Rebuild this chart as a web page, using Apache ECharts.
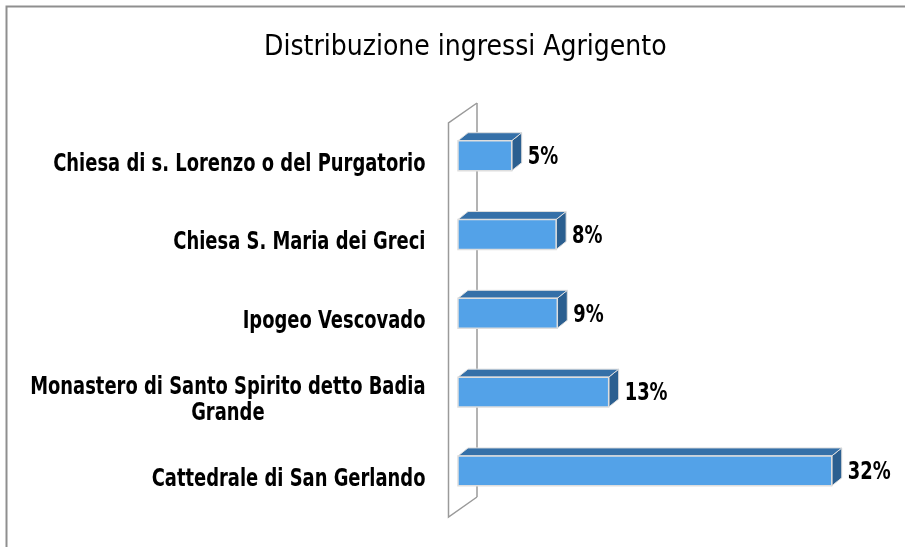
<!DOCTYPE html>
<html>
<head>
<meta charset="utf-8">
<title>Distribuzione ingressi Agrigento</title>
<script src="https://cdn.jsdelivr.net/npm/echarts@6/dist/echarts.min.js"></script>
<style>
  html, body { margin: 0; padding: 0; background: #fff; }
  #chart { width: 905px; height: 547px; }
</style>
</head>
<body>
<div id="chart"></div>
<script>
// data (top to bottom)
const categories = [
  'Chiesa di s. Lorenzo o del Purgatorio',
  'Chiesa S. Maria dei Greci',
  'Ipogeo Vescovado',
  'Monastero di Santo Spirito detto Badia\nGrande',
  'Cattedrale di San Gerlando'
];
const values = [4.6, 8.4, 8.5, 12.9, 32.0];
const valueLabels = ['5%', '8%', '9%', '13%', '32%'];

const FONT = '"Liberation Sans Narrow", "DejaVu Sans Condensed", "Arial Narrow", sans-serif';
const chart = echarts.init(document.getElementById('chart'));

// text measuring, used to centre the lines of a wrapped category label
const ctx = document.createElement('canvas').getContext('2d');
function textWidth(s, size) {
  ctx.font = 'bold ' + size + 'px ' + FONT;
  return ctx.measureText(s).width;
}

const WALL_DX = 28.5, WALL_DY = -20;   // depth of the side wall
const BAR_OX = 9.5, BAR_OY = -6.7;     // bar front face offset into the wall
const BAR_DX = 10, BAR_DY = -8;        // bar depth
const LABEL_SIZE = 24;
const NARROW = 0.83;                   // squeeze the labels like the original narrow face

function renderWall(params, api) {
  const cs = params.coordSys;
  const x = cs.x, top = cs.y, bot = cs.y + cs.height;
  const st = { stroke: '#9a9a9a', lineWidth: 1.5, fill: null };
  return {
    type: 'group',
    children: [
      { type: 'polyline', shape: { points: [[x + WALL_DX, top + WALL_DY], [x + WALL_DX, bot + WALL_DY]] }, style: st },
      { type: 'polyline', shape: { points: [[x + WALL_DX, top + WALL_DY], [x, top], [x, bot], [x + WALL_DX, bot + WALL_DY]] }, style: st }
    ]
  };
}

function renderBar(params, api) {
  const i = api.value(0);
  const v = api.value(1);
  const p0 = api.coord([0, i]);
  const p1 = api.coord([v, i]);
  const band = api.size([0, 1])[1];
  const h = band * 0.38;
  const x0 = p0[0] + BAR_OX, x1 = p1[0] + BAR_OX;
  const yc = p0[1] + BAR_OY;
  const yt = yc - h / 2, yb = yc + h / 2;
  const edge = '#dedede';
  // category label, right aligned, wrapped lines centred on each other
  const lines = categories[i].split('\n');
  const w = NARROW * Math.max.apply(null, lines.map(function (s) { return textWidth(s, LABEL_SIZE); }));
  const labelRight = p0[0] - 23;
  return {
    type: 'group',
    children: [
      { type: 'polygon', shape: { points: [[x1, yt], [x1 + BAR_DX, yt + BAR_DY], [x1 + BAR_DX, yb + BAR_DY], [x1, yb]] },
        style: { fill: '#2b5f90', stroke: edge, lineWidth: 1 } },
      { type: 'polygon', shape: { points: [[x0, yt], [x0 + BAR_DX, yt + BAR_DY], [x1 + BAR_DX, yt + BAR_DY], [x1, yt]] },
        style: { fill: '#3570a8', stroke: edge, lineWidth: 1 } },
      { type: 'rect', shape: { x: x0, y: yt, width: x1 - x0, height: h },
        style: { fill: '#53a2e8', stroke: edge, lineWidth: 1.5 } },
      { type: 'text', x: x1 + BAR_DX + 6, y: yc + 2, scaleX: NARROW,
        style: { text: valueLabels[i], fill: '#000', font: 'bold ' + LABEL_SIZE + 'px ' + FONT,
                 textAlign: 'left', textVerticalAlign: 'middle' } },
      { type: 'text', x: labelRight - w / 2, y: p0[1] + 2, scaleX: NARROW,
        style: { text: categories[i], fill: '#000', font: 'bold ' + LABEL_SIZE + 'px ' + FONT,
                 textAlign: 'center', textVerticalAlign: 'middle', lineHeight: 26 } }
    ]
  };
}

const option = {
  animation: false,
  title: {
    text: 'Distribuzione ingressi Agrigento',
    left: 259,
    top: 29,
    textStyle: { fontFamily: FONT, fontSize: 28, fontWeight: 'normal', color: '#000' }
  },
  graphic: [
    { type: 'rect', shape: { x: 6.5, y: 6.5, width: 1000, height: 600 },
      style: { fill: null, stroke: '#8f8f8f', lineWidth: 2 }, silent: true }
  ],
  grid: { left: 448.5, top: 123, height: 394, right: 47.7 },
  xAxis: {
    type: 'value', min: 0, max: 35, show: false
  },
  yAxis: {
    type: 'category',
    inverse: true,
    data: categories,
    axisLine: { show: false },
    axisTick: { show: false },
    axisLabel: { show: false }
  },
  series: [
    { type: 'custom', renderItem: renderWall, data: [[0, 0]], z: 1, silent: true },
    {
      type: 'custom',
      renderItem: renderBar,
      encode: { x: 1, y: 0 },
      data: values.map(function (v, i) { return [i, v]; }),
      z: 2
    }
  ]
};
chart.setOption(option);
</script>
</body>
</html>
